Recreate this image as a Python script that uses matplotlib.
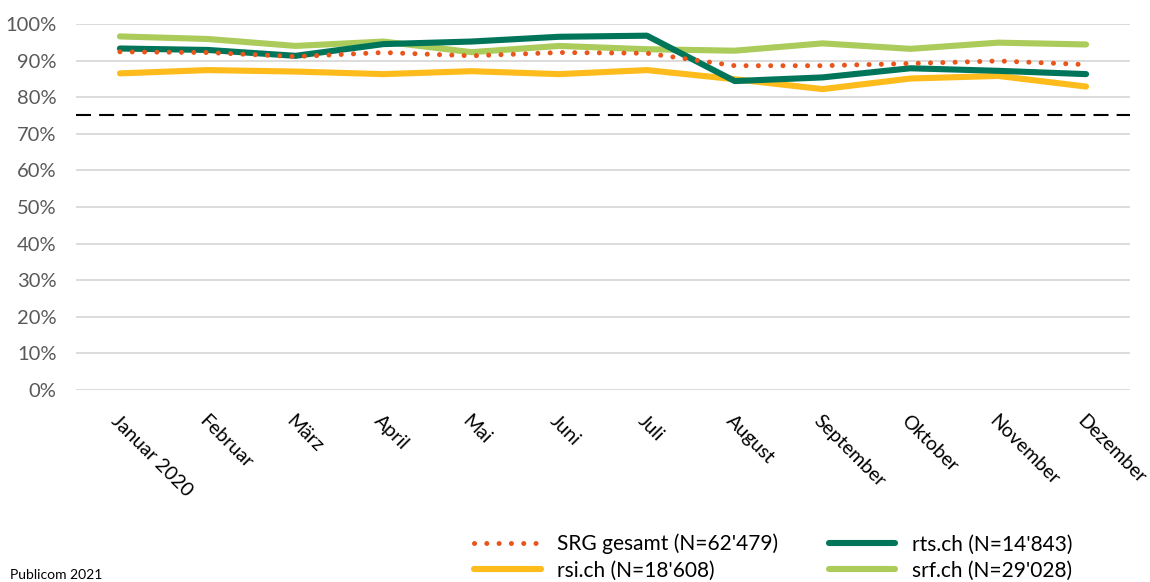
import matplotlib
matplotlib.use("Agg")
import matplotlib.pyplot as plt
from matplotlib.ticker import FuncFormatter

plt.rcParams['font.family'] = ['Lato', 'DejaVu Sans']

months = ["Januar 2020", "Februar", "März", "April", "Mai", "Juni", "Juli",
          "August", "September", "Oktober", "November", "Dezember"]

srg_gesamt = [92.4, 92.2, 91.1, 92.2, 91.3, 92.2, 92.0, 88.6, 88.6, 89.2, 89.9, 88.9]
rsi_ch = [86.5, 87.4, 87.0, 86.3, 87.1, 86.3, 87.4, 84.9, 82.2, 85.1, 85.8, 82.9]
rts_ch = [93.3, 92.9, 91.3, 94.5, 95.2, 96.5, 96.8, 84.4, 85.4, 87.9, 87.2, 86.3]
srf_ch = [96.6, 95.9, 94.0, 95.2, 92.3, 94.0, 93.1, 92.7, 94.7, 93.2, 94.9, 94.4]

threshold = 75

labels = ["SRG gesamt (N=62'479)", "rsi.ch (N=18'608)",
          "rts.ch (N=14'843)", "srf.ch (N=29'028)"]
colors = ["#E8561C", "#FDBB1C", "#00755A", "#ABCB5A"]

fig = plt.figure(figsize=(11.5, 5.82), dpi=100)
ax = fig.add_axes([0.0661, 0.33, 0.9165, 0.6288])

x = list(range(len(months)))

l_rsi, = ax.plot(x, rsi_ch, color=colors[1], lw=4.4, solid_capstyle='round',
                 solid_joinstyle='round', zorder=3)
l_rts, = ax.plot(x, rts_ch, color=colors[2], lw=4.4, solid_capstyle='round',
                 solid_joinstyle='round', zorder=4)
l_srf, = ax.plot(x, srf_ch, color=colors[3], lw=4.4, solid_capstyle='round',
                 solid_joinstyle='round', zorder=2)
l_srg, = ax.plot(x, srg_gesamt, color=colors[0], lw=3.6,
                 linestyle=(0, (0.01, 2.45)), dash_capstyle='round', zorder=5)

ax.axhline(threshold, color="black", lw=1.5, linestyle=(0, (7.2, 3.9)), zorder=6)

ax.set_xlim(-0.5, len(months) - 0.5)
ax.set_ylim(0, 100)
ax.set_yticks(range(0, 101, 10))
ax.yaxis.set_major_formatter(FuncFormatter(lambda v, p: f"{int(v)}%"))
ax.grid(axis='y', color="#D9D9D9", lw=1.3, zorder=0)
ax.set_axisbelow(True)
for s in ax.spines.values():
    s.set_visible(False)
ax.tick_params(axis='both', length=0)
ax.tick_params(axis='y', labelsize=14.5, labelcolor="#595959", pad=14)

ax.set_xticks(x)
ax.set_xticklabels(months, rotation=-45, ha='left', va='top',
                   rotation_mode='anchor', fontsize=14, color="black")
ax.tick_params(axis='x', pad=16)

fig.legend([l_srg, l_rsi, l_rts, l_srf], labels, ncol=2, frameon=False,
           loc='lower left', bbox_to_anchor=(0.396, -0.03),
           fontsize=15, handlelength=3.2, columnspacing=2.4,
           handletextpad=0.8, labelspacing=0.3)

fig.text(0.009, 0.005, "Publicom 2021", fontsize=10, color="black")

fig.savefig("out.png", dpi=100)
